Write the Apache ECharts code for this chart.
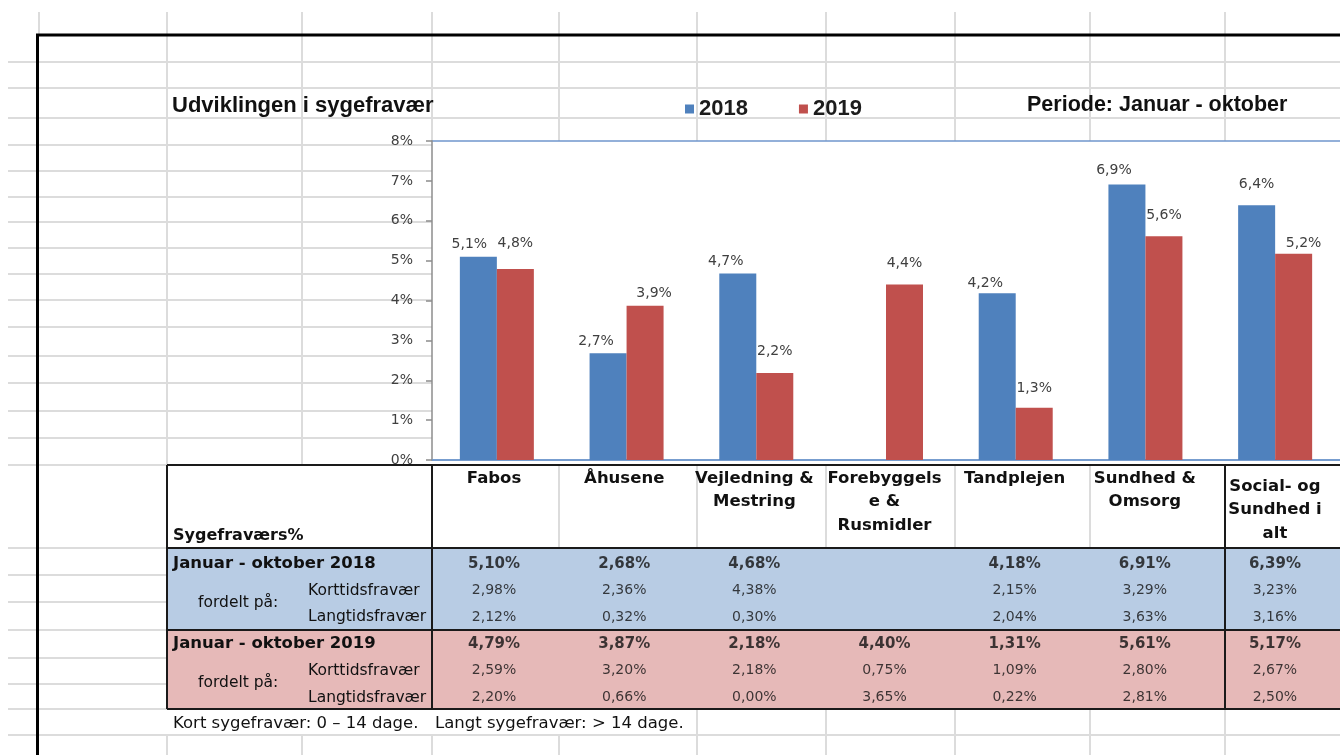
<!DOCTYPE html>
<html><head><meta charset="utf-8">
<script src="https://cdn.jsdelivr.net/npm/echarts@6/dist/echarts.min.js"></script>
<style>html,body{margin:0;padding:0;background:#fff}#c{width:1340px;height:755px}</style>
</head><body><div id="c"></div>
<script>
// ---------- data ----------
const categories = ['Fabos', 'Åhusene', 'Vejledning & Mestring', 'Forebyggelse & Rusmidler', 'Tandplejen', 'Sundhed & Omsorg', 'Social- og Sundhed i alt'];
const headerLabels = ['Fabos', 'Åhusene', 'Vejledning &\nMestring', 'Forebyggels\ne &\nRusmidler', 'Tandplejen', 'Sundhed &\nOmsorg', 'Social- og\nSundhed i\nalt'];
const seriesNames = ['2018', '2019'];
const total2018 = [5.10, 2.68, 4.68, null, 4.18, 6.91, 6.39];
const short2018 = [2.98, 2.36, 4.38, null, 2.15, 3.29, 3.23];
const long2018  = [2.12, 0.32, 0.30, null, 2.04, 3.63, 3.16];
const total2019 = [4.79, 3.87, 2.18, 4.40, 1.31, 5.61, 5.17];
const short2019 = [2.59, 3.20, 2.18, 0.75, 1.09, 2.80, 2.67];
const long2019  = [2.20, 0.66, 0.00, 3.65, 0.22, 2.81, 2.50];
const rowKeys = ['t18', 's18', 'l18', 't19', 's19', 'l19'];
const rowLabels = ['Januar - oktober 2018', 'Korttidsfravær', 'Langtidsfravær', 'Januar - oktober 2019', 'Korttidsfravær', 'Langtidsfravær'];
const titleText = 'Udviklingen i sygefravær';
const periodText = 'Periode: Januar - oktober';
const tableCorner = 'Sygefraværs%';
const splitText = 'fordelt på:';
const footnote1 = 'Kort sygefravær: 0 – 14 dage.';
const footnote2 = 'Langt sygefravær: > 14 dage.';

// ---------- layout (not data) ----------
const labelShift2018 = [[-9, 0], [-12, 0], [-12, 0], [0, 0], [-12, 2], [-13, -2], [0, -8.5]];
const labelShift2019 = [[0, -13.5], [9, 0], [0, -9.5], [0, -9], [0, -7], [0, -9], [10, 2]];
const headerPadTop = [0, 0, 0, 0, 0, 0, 8];
const sheetRows = [62, 88, 118, 145, 171, 197, 222, 248, 274, 300, 327, 356, 383, 411, 438, 465, 548, 575, 602, 630, 658, 684, 709, 735];
const vSegs = [
  [39, 12, 35],
  [167, 12, 465], [167, 735, 755],
  [302, 12, 465], [302, 735, 755],
  [432, 12, 141], [432, 735, 755],
  [559, 12, 141], [559, 465, 548], [559, 735, 755],
  [697, 12, 141], [697, 465, 548], [697, 709, 755],
  [826, 12, 141], [826, 465, 548], [826, 709, 755],
  [955, 12, 141], [955, 465, 548], [955, 709, 755],
  [1090, 12, 141], [1090, 465, 548], [1090, 709, 755],
  [1225, 12, 141], [1225, 709, 755]
];
const blackH = [[465, 167, 1340], [548, 167, 1340], [630, 167, 1340], [709, 167, 1340]];
const blackV = [[167, 465, 709], [432, 465, 709], [1225, 465, 709]];

const BLUE = '#4F81BD', RED = '#C0504D', PLOTLINE = '#6f96cc';
const fmt1 = v => v.toFixed(1).replace('.', ',') + '%';
const fmt2 = v => v.toFixed(2).replace('.', ',') + '%';

const tableRows = [total2018, short2018, long2018, total2019, short2019, long2019];
const tableData = [];
tableRows.forEach((arr, r) => arr.forEach((v, i) => { if (v !== null) tableData.push([i, r, v]); }));

const headerStyle = { fontFamily: 'DejaVu Sans', fontWeight: 'bold', fontSize: 16.5, lineHeight: 23.5, color: '#111', verticalAlign: 'top' };

const chart = echarts.init(document.getElementById('c'), null, { renderer: 'canvas' });

const option = {
  animation: false,
  textStyle: { fontFamily: 'DejaVu Sans' },
  legend: {
    data: seriesNames, left: 680, top: 93, itemWidth: 9, itemHeight: 9, itemGap: 51, icon: 'rect',
    textStyle: { fontFamily: 'Liberation Sans', fontWeight: 'bold', fontSize: 22, color: '#1c1c1c' }
  },
  grid: [
    { left: 432, top: 141, width: 910, height: 319, show: true, backgroundColor: '#fff', borderWidth: 0 },
    { left: 429, top: 550.65, width: 924, height: 160.2 }
  ],
  xAxis: [
    { gridIndex: 0, type: 'category', data: categories,
      axisLine: { lineStyle: { color: PLOTLINE, width: 1.5 } }, axisTick: { show: false }, axisLabel: { show: false } },
    { gridIndex: 1, type: 'category', position: 'top',
      data: categories.map((c, i) => headerPadTop[i]
        ? { value: c, textStyle: Object.assign({}, headerStyle, { padding: [headerPadTop[i], 0, 0, 0] }) }
        : c),
      axisLine: { show: false }, axisTick: { show: false }, splitLine: { show: false },
      axisLabel: Object.assign({ interval: 0, formatter: (v, i) => headerLabels[i], margin: 84 }, headerStyle) }
  ],
  yAxis: [
    { gridIndex: 0, type: 'value', min: 0, max: 8, interval: 1,
      axisLine: { show: true, lineStyle: { color: '#8c8c8c', width: 1.5 } },
      axisTick: { show: true, length: 6, lineStyle: { color: '#8c8c8c', width: 1.5 } },
      splitLine: { show: false },
      axisLabel: { formatter: '{value}%', margin: 19, fontSize: 14, color: '#404040', fontFamily: 'DejaVu Sans' } },
    { gridIndex: 1, type: 'category', data: rowKeys, inverse: true, show: false },
    { gridIndex: 0, type: 'value', min: 0, max: 8, interval: 8, position: 'right',
      axisLine: { show: false }, axisTick: { show: false }, axisLabel: { show: false },
      splitLine: { show: true, lineStyle: { color: PLOTLINE, width: 1.5 } } }
  ],
  series: [
    { name: seriesNames[0], type: 'bar', xAxisIndex: 0, yAxisIndex: 0, barWidth: 37, barGap: '0%',
      itemStyle: { color: BLUE },
      label: { show: true, position: 'top', distance: 5, fontSize: 14, color: '#404040', fontFamily: 'DejaVu Sans',
        formatter: p => (p.value == null ? '' : fmt1(p.value)) },
      data: total2018.map((v, i) => ({ value: v, label: { offset: labelShift2018[i] } })) },
    { name: seriesNames[1], type: 'bar', xAxisIndex: 0, yAxisIndex: 0, barWidth: 37, barGap: '0%',
      itemStyle: { color: RED },
      label: { show: true, position: 'top', distance: 5, fontSize: 14, color: '#404040', fontFamily: 'DejaVu Sans',
        formatter: p => (p.value == null ? '' : fmt1(p.value)) },
      data: total2019.map((v, i) => ({ value: v, label: { offset: labelShift2019[i] } })) },
    { type: 'scatter', xAxisIndex: 1, yAxisIndex: 1, symbolSize: 1, silent: true,
      itemStyle: { color: 'rgba(0,0,0,0)' },
      label: { show: true, position: 'inside', color: '#111',
        formatter: p => {
          const r = p.value[1], s = fmt2(p.value[2]);
          return (r === 0 || r === 3) ? '{b|' + s + '}' : '{n|' + s + '}';
        },
        rich: {
          b: { fontFamily: 'DejaVu Sans', fontWeight: 'bold', fontSize: 15, color: '#111' },
          n: { fontFamily: 'DejaVu Sans', fontSize: 14, color: '#111' }
        } },
      data: tableData }
  ]
};
chart.setOption(option);

// ---------- decorations (spreadsheet) ----------
const g = [];
const GRAY = '#dcdcdc';
const line = (x1, y1, x2, y2, color, w, z) => ({ type: 'line', silent: true, z: z,
  shape: { x1, y1, x2, y2 }, style: { stroke: color, lineWidth: w } });
const text = (x, y, t, font, align) => ({ type: 'text', silent: true, z: -2, x, y,
  style: { text: t, font: font, fill: '#111', align: align || 'left', verticalAlign: 'middle' } });

g.push({ type: 'rect', silent: true, z: -7, shape: { x: 167, y: 548, width: 1200, height: 82 }, style: { fill: '#b8cce4' } });
g.push({ type: 'rect', silent: true, z: -7, shape: { x: 167, y: 630, width: 1200, height: 79 }, style: { fill: '#e6b9b8' } });

sheetRows.forEach(y => {
  let x2;
  if (y < 141 || y > 709) x2 = 1340;
  else if (y < 461) x2 = 432;
  else x2 = 167;
  g.push(line(8, y, x2, y, GRAY, 2, -6));
});
vSegs.forEach(s => g.push(line(s[0], s[1], s[0], s[2], GRAY, 2, -6)));
blackH.forEach(s => g.push(line(s[1], s[0], s[2], s[0], '#1a1a1a', 2, -4)));
blackV.forEach(s => g.push(line(s[0], s[1], s[0], s[2], '#1a1a1a', 2, -4)));
g.push(line(36, 35, 1340, 35, '#000', 3, -3));
g.push(line(37.5, 34, 37.5, 755, '#000', 3, -3));

g.push(text(172, 105.5, titleText, 'bold 22px "Liberation Sans"'));
g.push(text(1027, 105.5, periodText, 'bold 21.5px "Liberation Sans"'));
g.push(text(173, 536, tableCorner, 'bold 16px "DejaVu Sans"'));
const ry = rowKeys.map(k => chart.convertToPixel({ yAxisIndex: 1 }, k));
[0, 3].forEach(r => g.push(text(173, ry[r], rowLabels[r], 'bold 16.5px "DejaVu Sans"')));
[1, 2, 4, 5].forEach(r => g.push(text(308, ry[r], rowLabels[r], '15.5px "DejaVu Sans"')));
g.push(text(198, (ry[1] + ry[2]) / 2 - 1.5, splitText, '15.5px "DejaVu Sans"'));
g.push(text(198, (ry[4] + ry[5]) / 2 - 1.5, splitText, '15.5px "DejaVu Sans"'));
g.push(text(173, 724, footnote1, '16.5px "DejaVu Sans"'));
g.push(text(435, 724, footnote2, '16.5px "DejaVu Sans"'));

chart.setOption({ graphic: { elements: g } });
</script>
</body></html>
